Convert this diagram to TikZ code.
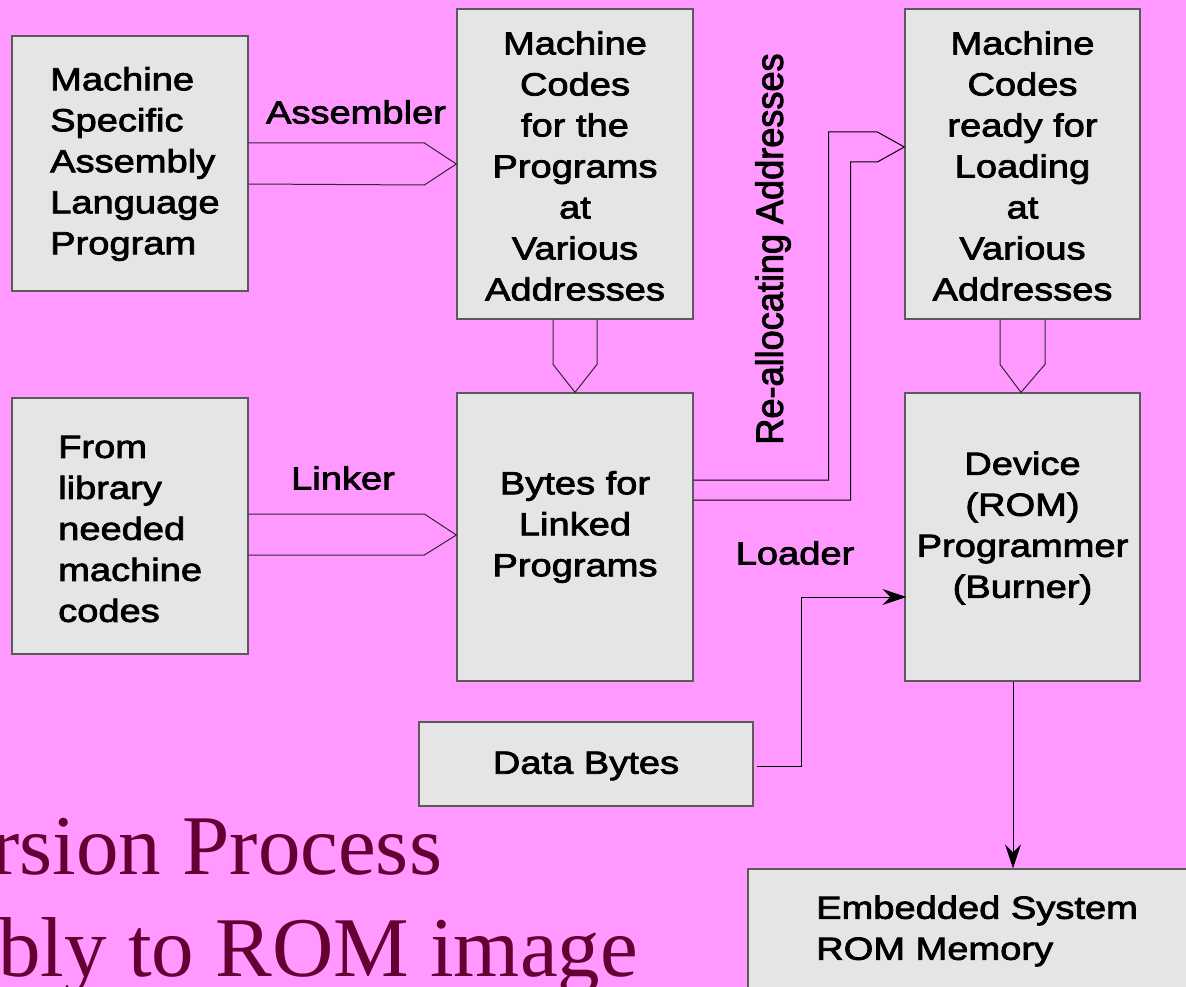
\documentclass[tikz,border=0pt]{standalone}
\usepackage{fontspec}
\setmainfont{Liberation Sans}[FakeStretch=1.19, FakeBold=2.5]
\newfontfamily\vfont{Liberation Sans}[FakeStretch=0.95, FakeBold=2.5]
\newfontfamily\bigserif{Liberation Serif}
\usetikzlibrary{arrows.meta,calc}
\definecolor{bg}{RGB}{255,153,255}
\definecolor{boxfill}{RGB}{229,229,229}
\definecolor{boxline}{RGB}{90,90,90}
\definecolor{titlecol}{RGB}{102,0,51}
\definecolor{arrline}{RGB}{55,35,55}
\begin{document}
\begin{tikzpicture}[x=1pt,y=-1pt,
 box/.style={draw=boxline, line width=1.3pt, fill=boxfill, inner sep=0pt},
 txt/.style={font=\fontsize{32}{41}\selectfont, align=center, inner sep=0pt},
 ltxt/.style={font=\fontsize{32}{41}\selectfont, align=left, inner sep=0pt, anchor=west},
 barrow/.style={draw=arrline, line width=1pt, line join=miter},
 conn/.style={draw=black, line width=1pt},
 tipped/.style={-{Stealth[length=24pt,width=16pt,inset=8pt]}},
 bigtxt/.style={font=\bigserif\fontsize{85}{85}\selectfont, text=titlecol, inner sep=0pt, anchor=base west}]
\clip (0,0) rectangle (1186,987);
\fill[bg] (0,0) rectangle (1186,987);

% boxes
\node[box, minimum width=236pt, minimum height=255pt] (b1) at (130,163.5) {};
\node[box, minimum width=236pt, minimum height=310pt] (b2) at (575,164) {};
\node[box, minimum width=235pt, minimum height=310pt] (b3) at (1022.5,164) {};
\node[box, minimum width=236pt, minimum height=256pt] (b4) at (130,526) {};
\node[box, minimum width=236pt, minimum height=288pt] (b5) at (575,537) {};
\node[box, minimum width=235pt, minimum height=288pt] (b6) at (1022.5,537) {};
\node[box, minimum width=334pt, minimum height=84pt] (b7) at (586,764) {};
\node[box, minimum width=452pt, minimum height=131pt] (b8) at (974,934.5) {};

% box texts
\node[ltxt] (t1) at (50,164) {Machine\\Specific\\Assembly\\Language\\Program};
\node[txt] (t2) at (575,166) {Machine\\Codes\\for the\\Programs\\at\\Various\\Addresses};
\node[txt] (t3) at (1022.5,166) {Machine\\Codes\\ready for\\Loading\\at\\Various\\Addresses};
\node[ltxt] (t4) at (58,529) {From\\library\\needed\\machine\\codes};
\node[txt] (t5) at (575,527) {Bytes for\\Linked\\Programs};
\node[txt] (t6) at (1022.5,528) {Device\\(ROM)\\Programmer\\(Burner)};
\node[txt] (t7) at (586,766) {Data Bytes};
\node[ltxt] (t8) at (816,931) {Embedded System\\ROM Memory};

% labels
\node[txt] (lasm) at (356,112) {Assembler};
\node[txt] (llnk) at (343,478) {Linker};
\node[txt] (lld) at (795,553) {Loader};
\node[inner sep=0pt, rotate=90, font=\vfont\fontsize{38}{40}\selectfont] (lre) at (773,249) {Re-allocating Addresses};

% block arrows
\draw[barrow] ($(b1.east)+(0,-20.5)$) -- ($(b2.west)+(-32,-21)$) -- (b2.west) -- ($(b2.west)+(-32,21)$) -- ($(b1.east)+(0,20.5)$);
\draw[barrow] ($(b4.east)+(0,-12)$) -- ($(b5.west)+(-32,-23)$) -- ($(b5.west)+(0,-2)$) -- ($(b5.west)+(-32,18)$) -- ($(b4.east)+(0,29)$);
\draw[barrow] ($(b2.south)+(-22,0)$) -- ($(b5.north)+(-22,-28)$) -- (b5.north) -- ($(b5.north)+(22,-28)$) -- ($(b2.south)+(22,0)$);
\draw[barrow] ($(b3.south)+(-22.5,0)$) -- ($(b6.north)+(-22.5,-28)$) -- ($(b6.north)+(-1.5,0)$) -- ($(b6.north)+(22.5,-28)$) -- ($(b3.south)+(22.5,0)$);

% re-allocating double line arrow
\coordinate (rtip) at ($(b3.west)+(0,-17)$);
\draw[conn, line join=miter] ($(b5.east)+(0,-57)$) -- ($(b5.east)+(135,-57)$) -- ($(b5.east)+(135,-405)$) -- ($(b3.west)+(-27,-32)$) -- (rtip);
\draw[conn, line join=miter] ($(b5.east)+(0,-37)$) -- ($(b5.east)+(157,-37)$) -- ($(b5.east)+(157,-375)$) -- ($(b3.west)+(-27,-2)$) -- (rtip);

% loader arrow
\draw[conn, tipped] ($(b7.east)+(3,2)$) -- ($(b7.east)+(48,2)$) |- ($(b6.west)+(2,60)$);

% to ROM memory
\coordinate (vs) at ($(b6.south)+(-9.5,0)$);
\draw[conn, tipped] (vs) -- (vs |- b8.north);

% title fragments
\node[bigtxt] (title1) at (-9,874) {rsion Process};
\node[bigtxt] (title2) at (-2,976) {bly to ROM image};
\end{tikzpicture}
\end{document}
